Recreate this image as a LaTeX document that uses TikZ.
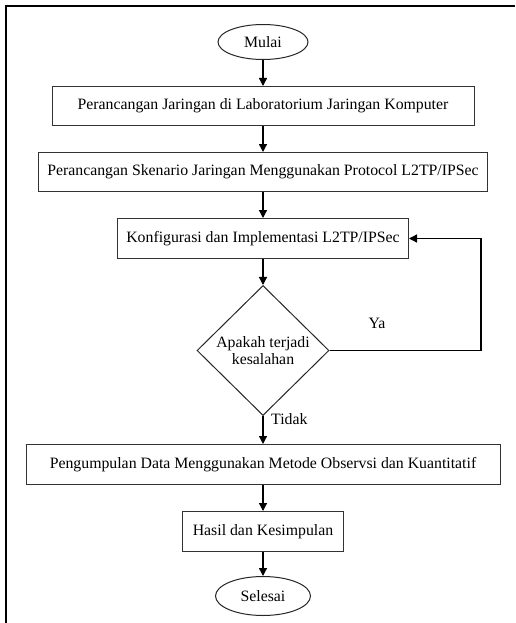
\documentclass[tikz,border=0pt]{standalone}
\usepackage{fontspec}
\setmainfont{Liberation Serif}
\usepackage{tikz}
\usetikzlibrary{positioning,arrows.meta,shapes.geometric}

\begin{document}
\begin{tikzpicture}[
  x=1pt,y=1pt,
  font=\fontsize{15.8}{17.5}\selectfont,
  node distance=26pt,
  proc/.style={draw=black!80,line width=1pt,minimum height=39pt,inner sep=0pt,align=center},
  term/.style={draw=black!85,line width=1pt,ellipse,inner sep=0pt},
  cond/.style={draw=black!85,line width=1pt,diamond,minimum width=132pt,minimum height=130pt,inner sep=0pt,align=center},
  arr/.style={line width=1.3pt,-{Triangle[length=8pt,width=8pt]}}]
  \useasboundingbox (0,0) rectangle (515,-623);
  % outer frame (cut off on right and bottom)
  \draw[line width=2pt] (515,-6) -- (6,-6) -- (6,-623);
  \node[term,minimum width=90pt,minimum height=35pt] (start) at (263,-42) {Mulai};
  \node[proc,below=of start,minimum width=422pt] (s1) {Perancangan Jaringan di Laboratorium Jaringan Komputer};
  \node[proc,below=of s1,minimum width=449pt] (s2) {Perancangan Skenario Jaringan Menggunakan Protocol L2TP/IPSec};
  \node[proc,below=of s2,minimum width=291pt,minimum height=40pt] (s3) {Konfigurasi dan Implementasi L2TP/IPSec};
  \node[cond,below=of s3] (dec) {Apakah terjadi\\kesalahan};
  \node[proc,below=28pt of dec,minimum width=474pt,minimum height=40pt] (s4) {Pengumpulan Data Menggunakan Metode Observsi dan Kuantitatif};
  \node[proc,below=of s4,minimum width=161pt,minimum height=40pt] (s5) {Hasil dan Kesimpulan};
  \node[term,below=24pt of s5,minimum width=95pt,minimum height=39pt] (stop) {Selesai};
  \coordinate (ret) at (481,0 |- s3.east);
  \draw[arr] (start) -- (s1);
  \draw[arr] (s1) -- (s2);
  \draw[arr] (s2) -- (s3);
  \draw[arr] (s3) -- (dec);
  \draw[arr] (dec) -- (s4);
  \draw[arr] (s4) -- (s5);
  \draw[arr] (s5) -- (stop);
  \draw[arr] (dec.east) -| (ret) -- (s3.east);
  \node (ya) at (377,-323) {Ya};
  \node[anchor=west,inner sep=0pt] (tidak) at (dec.south) [xshift=8pt,yshift=-3pt] {Tidak};
\end{tikzpicture}
\end{document}
